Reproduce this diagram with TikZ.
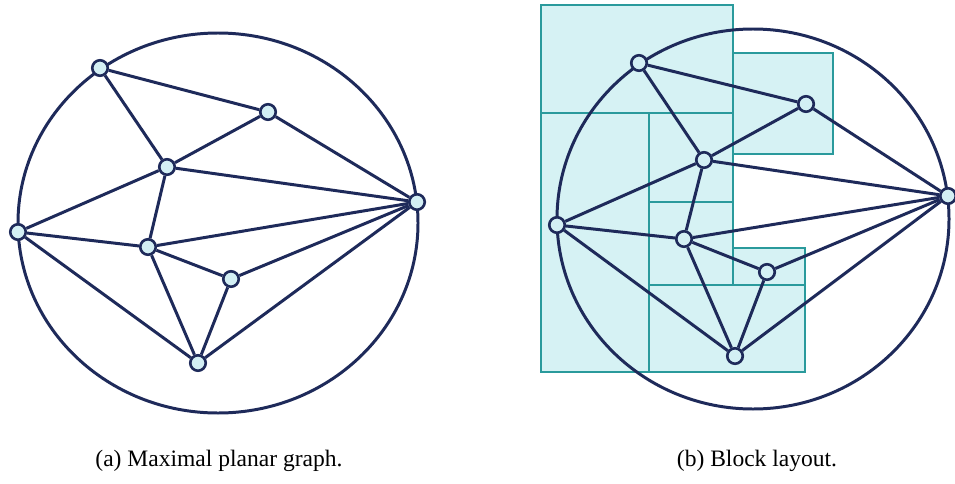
\documentclass[tikz,border=0pt]{standalone}
\usepackage{fontspec}
\setmainfont{Liberation Serif}
\usetikzlibrary{positioning}
\definecolor{ink}{HTML}{1E2A5A}
\definecolor{dotfill}{HTML}{D3EFF4}
\definecolor{blockline}{HTML}{2A9A9C}
\definecolor{blockfill}{HTML}{D6F2F4}
\tikzset{vtx/.style={circle,draw=ink,fill=dotfill,line width=1.5pt,minimum size=3.1mm,inner sep=0pt}, link/.style={draw=ink,line width=1.7pt}, blk/.style={draw=blockline,fill=blockfill,line width=1.3pt}, captext/.style={font=\fontsize{13.4}{15}\selectfont}}

\begin{document}
\begin{tikzpicture}[x=0.02cm,y=-0.02cm]
\useasboundingbox (0,0) rectangle (955,483);
% (a) graph
\draw[link] (218,223) ellipse [x radius=200,y radius=190];
\foreach \n/\x/\y in {A/100/68,B/268/112,C/167/167,R/417/202,L/18/232,D/148/247,E/231/279,F/198/363}{\node[vtx] (a\n) at (\x,\y){};}
\foreach \u/\v in {A/B,A/C,B/C,B/R,C/R,C/L,C/D,L/D,L/F,D/R,D/E,D/F,E/R,E/F,F/R}{\draw[link] (a\u)--(a\v);}
\node[captext] (capa) at (219,461){(a) Maximal planar graph.};
% (b) blocks under the same graph
\foreach \x/\y/\X/\Y in {541/5/733/113,733/53/833/154,541/113/649/372,649/113/733/202,649/202/733/285,733/248/805/285,649/285/805/372}{\draw[blk] (\x,\y) rectangle (\X,\Y);}
\draw[link] (753,219) ellipse [x radius=196,y radius=190];
\foreach \n/\x/\y in {A/639/63,B/806/104,C/704/160,R/948/196,L/557/225,D/684/239,E/767/272,F/735/356}{\node[vtx] (b\n) at (\x,\y){};}
\foreach \u/\v in {A/B,A/C,B/C,B/R,C/R,C/L,C/D,L/D,L/F,D/R,D/E,D/F,E/R,E/F,F/R}{\draw[link] (b\u)--(b\v);}
\node[captext] (capb) at (757,461){(b) Block layout.};
\end{tikzpicture}
\end{document}
